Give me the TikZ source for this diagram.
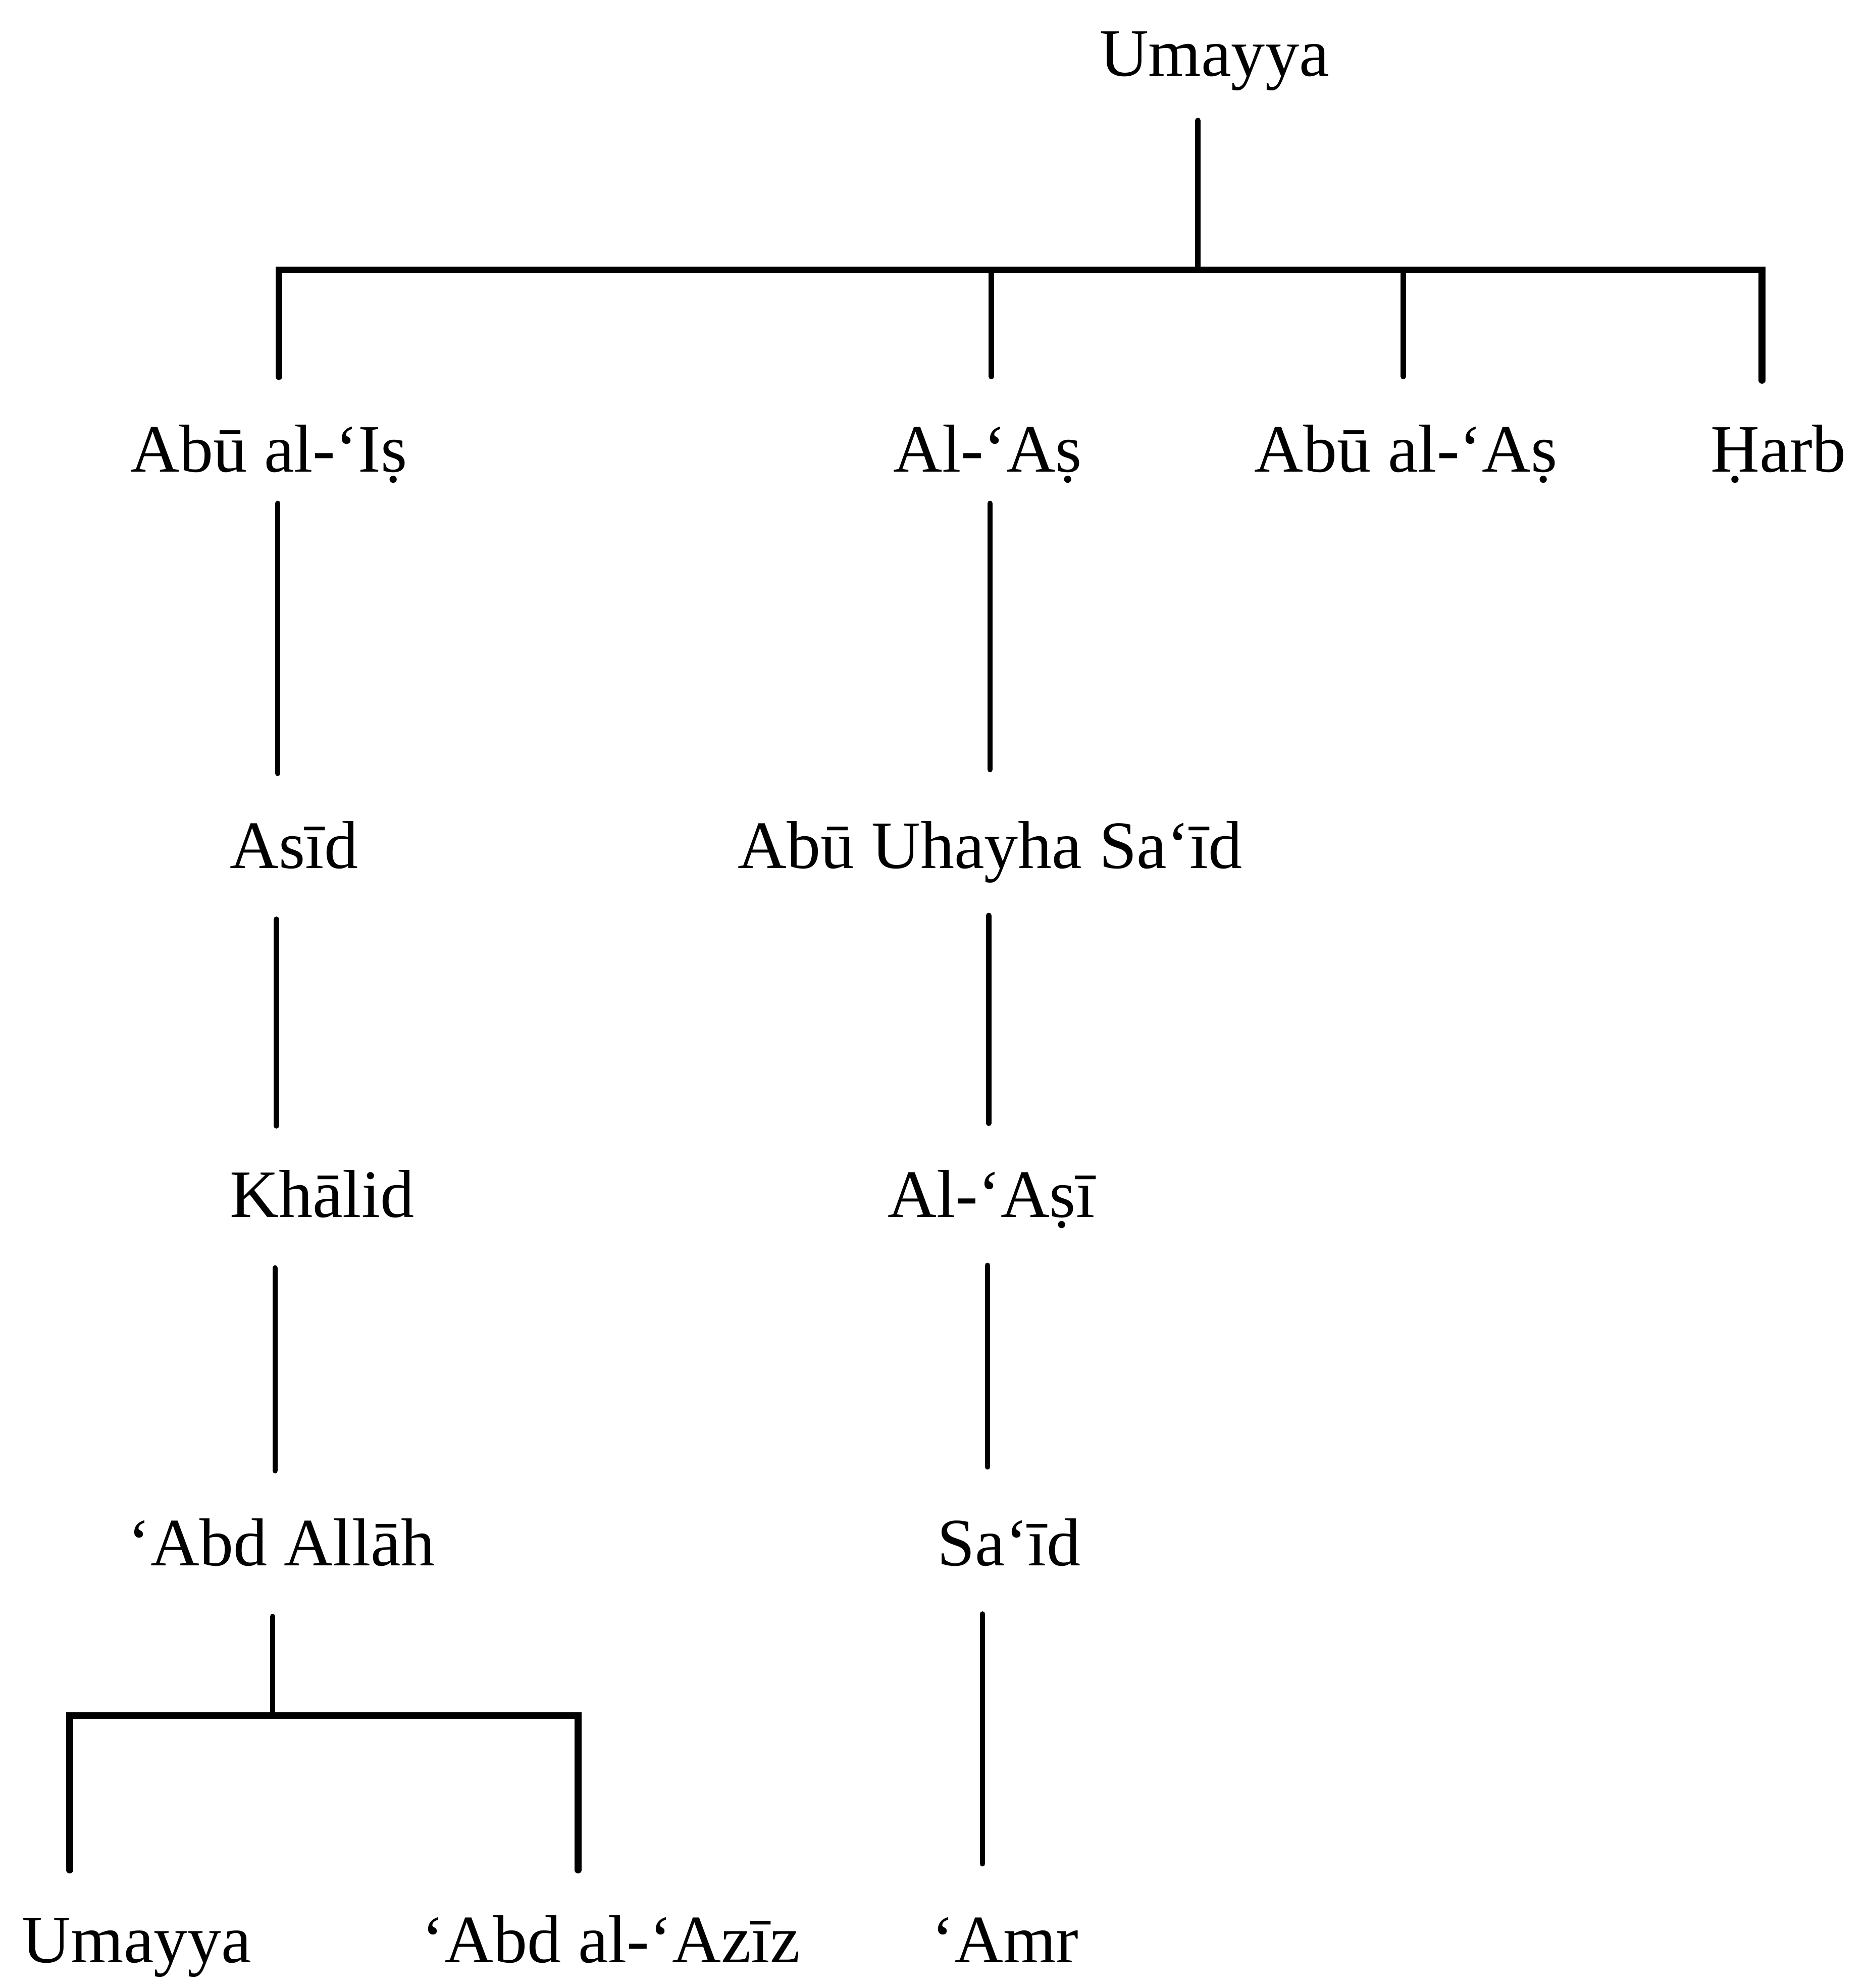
\documentclass[tikz,border=0pt]{standalone}
\usepackage{fontspec}
\setmainfont{Liberation Serif}
\usepackage{tikz}
\usetikzlibrary{calc}

\begin{document}
\begin{tikzpicture}[x=0.01cm,y=-0.01cm,line width=1.2pt,line cap=round]
\tikzstyle{every node}=[anchor=base,inner sep=0pt,font=\fontsize{15.2}{18}\selectfont]
\tikzstyle{bar}=[line width=1.5pt]
\useasboundingbox (0,0) rectangle (1472,1568);
\node (umayya) at (958,60) {Umayya};
\node (abualis) at (212,372) {Abū al-‘Iṣ};
\node (alas) at (779,372) {Al-‘Aṣ};
\node (abualas) at (1109,372) {Abū al-‘Aṣ};
\node (harb) at (1403,372) {Ḥarb};
\node (asid) at (232,685) {Asīd};
\node (abuuhayha) at (781,685) {Abū Uhayha Sa‘īd};
\node (khalid) at (254,960) {Khālid};
\node (alasi) at (782,960) {Al-‘Aṣī};
\node (abdallah) at (222,1235) {‘Abd Allāh};
\node (said) at (796,1235) {Sa‘īd};
\node (umayyb) at (108,1548) {Umayya};
\node (abdalaziz) at (482,1548) {‘Abd al-‘Azīz};
\node (amr) at (793,1548) {‘Amr};
\coordinate (fork1) at (945,213);
\coordinate (fork2) at (215,1353);
\draw ($(umayya.base)+(-13,35)$) -- (fork1);
\draw[bar] ($(abualis.base)+(8,-75)$) |- (fork1) -| ($(harb.base)+(-13,-72)$);
\draw ($(alas.base)+(3,-75)$) |- (fork1);
\draw ($(abualas.base)+(-2,-75)$) |- (fork1);
\draw ($(abualis.base)+(7,25)$) -- ($(asid.base)+(-13,-75)$);
\draw ($(asid.base)+(-14,40)$) -- ($(khalid.base)+(-36,-72)$);
\draw ($(khalid.base)+(-37,40)$) -- ($(abdallah.base)+(-5,-75)$);
\draw ($(abdallah.base)+(-7,40)$) -- (fork2);
\draw[bar] ($(umayyb.base)+(-53,-73)$) |- (fork2) -| ($(abdalaziz.base)+(-26,-73)$);
\draw ($(alas.base)+(2,25)$) -- ($(abuuhayha.base)+(0,-78)$);
\draw ($(abuuhayha.base)+(-1,37)$) -- ($(alasi.base)+(-2,-74)$);
\draw ($(alasi.base)+(-3,38)$) -- ($(said.base)+(-17,-78)$);
\draw ($(said.base)+(-21,38)$) -- ($(amr.base)+(-18,-78)$);
\end{tikzpicture}
\end{document}
